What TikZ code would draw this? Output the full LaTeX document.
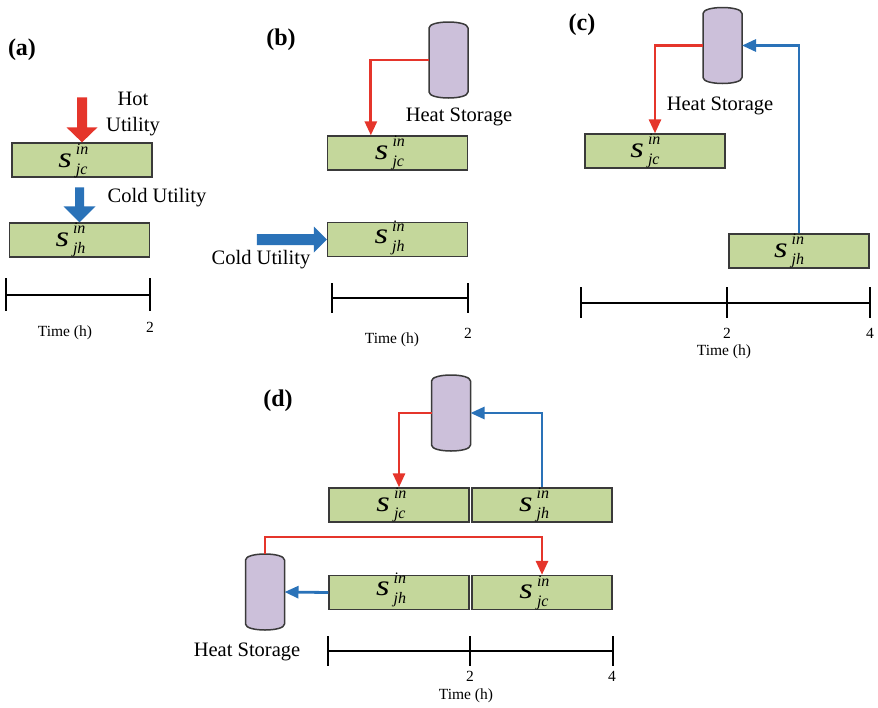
\documentclass[tikz,border=0pt]{standalone}
\usepackage{fontspec}
\usepackage{graphicx}
\setmainfont{Liberation Serif}
\usetikzlibrary{arrows.meta,calc}

\definecolor{boxgreen}{HTML}{C4D79B}
\definecolor{boxedge}{HTML}{3A3A3A}
\definecolor{tankfill}{HTML}{CCC0DA}
\definecolor{tankedge}{HTML}{3A3A3A}
\definecolor{hotred}{HTML}{E5352B}
\definecolor{coldblue}{HTML}{2A72B8}

% stream symbol s_{..}^{in}
\newcommand\slab[1]{{\fontsize{29}{29}\selectfont\itshape\scalebox{1.2}[1]{s}}\kern4pt%
  \rlap{\raisebox{12.5pt}{\fontsize{16}{17}\selectfont\itshape in}}%
  \raisebox{-7.5pt}{\fontsize{16}{17}\selectfont\itshape #1}}

% storage tank outline around a named node
\newcommand\drawtank[1]{%
  \filldraw[fill=tankfill,draw=tankedge,line width=1.5pt]
    ([yshift=6pt]#1.south west) -- ([yshift=-6pt]#1.north west)
    .. controls +(0pt,8pt) and +(0pt,8pt) .. ([yshift=-6pt]#1.north east)
    -- ([yshift=6pt]#1.south east)
    .. controls +(0pt,-8pt) and +(0pt,-8pt) .. ([yshift=6pt]#1.south west) -- cycle;}

\tikzset{
  stream/.style={rectangle,draw=boxedge,fill=boxgreen,line width=1.3pt,
    minimum width=140pt,minimum height=34pt,inner sep=0pt},
  lab/.style={anchor=base,inner sep=0pt},
  tank/.style={rectangle,minimum width=39pt,minimum height=76pt,inner sep=0pt,outer sep=0pt},
  txt/.style={inner sep=0pt,font=\fontsize{20.5}{26}\selectfont},
  small/.style={inner sep=0pt,font=\fontsize{15.5}{18}\selectfont},
  panel/.style={inner sep=0pt,font=\fontsize{24}{28}\selectfont\bfseries},
  hotline/.style={draw=hotred,line width=2.8pt,-{Triangle[length=14pt,width=12pt]}},
  coldline/.style={draw=coldblue,line width=2.8pt,-{Triangle[length=14pt,width=12pt]}},
  axis/.style={line width=2.3pt,black},
}

\begin{document}
\begin{tikzpicture}[x=1pt,y=-1pt]
\useasboundingbox (0,0) rectangle (878,707);

% ---------------- (a) ----------------
\node[panel] (pa) at (22,50) {(a)};
\node[stream] (a1) at (82,160) {};
\node[stream] (a2) at (79.5,240) {};
\node[lab] (a1t) at ([xshift=-9pt,yshift=-7pt]a1.center) {\slab{jc}};
\node[lab] (a2t) at ([xshift=-9pt,yshift=-6pt]a2.center) {\slab{jh}};
\node[txt,align=center] (hot) at (133,114) {Hot\\Utility};
\node[txt] (colda) at (157,198) {Cold Utility};
% hot utility arrow
\fill[hotred] ($(a1.north)+(-5,-45)$) -- ($(a1.north)+(5,-45)$) -- ($(a1.north)+(5,-15)$)
  -- ($(a1.north)+(15.5,-15)$) -- (a1.north) -- ($(a1.north)+(-15.5,-15)$)
  -- ($(a1.north)+(-5,-15)$) -- cycle;
% cold utility arrow
\fill[coldblue] ($(a2.north)+(-4.5,-35)$) -- ($(a2.north)+(4.5,-35)$) -- ($(a2.north)+(4.5,-16)$)
  -- ($(a2.north)+(16,-16)$) -- (a2.north) -- ($(a2.north)+(-16,-16)$)
  -- ($(a2.north)+(-4.5,-16)$) -- cycle;
% time axis
\coordinate (ta0) at (6,295);
\coordinate (ta1) at (150,295);
\draw[axis] (ta0) -- (ta1);
\draw[axis] ($(ta0)+(0,-17)$) -- ($(ta0)+(0,16)$);
\draw[axis] ($(ta1)+(0,-17)$) -- ($(ta1)+(0,16)$);
\node[small] (tla) at (65,333) {Time (h)};
\node[small] (na2) at (150,327) {2};

% ---------------- (b) ----------------
\node[panel] (pb) at (281,40) {(b)};
\node[tank] (Tb) at (448.5,60) {};
\drawtank{Tb}
\node[txt] (hsb) at (459,117) {Heat Storage};
\node[stream] (b1) at (397.5,153) {};
\node[stream] (b2) at (397.5,239.5) {};
\node[lab] (b1t) at ([xshift=-8pt,yshift=-6pt]b1.center) {\slab{jc}};
\node[lab] (b2t) at ([xshift=-8pt,yshift=-4pt]b2.center) {\slab{jh}};
\draw[hotline] (Tb.west) -| ([xshift=44pt]b1.north west);
\node[txt] (coldb) at (261,260) {Cold Utility};
\fill[coldblue] ($(b2.west)+(-70,-5.5)$) -- ($(b2.west)+(-13,-5.5)$) -- ($(b2.west)+(-13,-13)$)
  -- (b2.west) -- ($(b2.west)+(-13,13)$) -- ($(b2.west)+(-13,5.5)$)
  -- ($(b2.west)+(-70,5.5)$) -- cycle;
\coordinate (tb0) at (332,298);
\coordinate (tb1) at (468,298);
\draw[axis] (tb0) -- (tb1);
\draw[axis] ($(tb0)+(0,-15)$) -- ($(tb0)+(0,15)$);
\draw[axis] ($(tb1)+(0,-15)$) -- ($(tb1)+(0,15)$);
\node[small] (tlb) at (392,340) {Time (h)};
\node[small] (nb2) at (468,333) {2};

% ---------------- (c) ----------------
\node[panel] (pc) at (582,25) {(c)};
\node[tank] (Tc) at (722.5,45.5) {};
\drawtank{Tc}
\node[txt] (hsc) at (720,106) {Heat Storage};
\node[stream] (c1) at (655,151) {};
\node[stream] (c2) at (799,251) {};
\node[lab] (c1t) at ([xshift=-10pt,yshift=-6pt]c1.center) {\slab{jc}};
\node[lab] (c2t) at ([xshift=-10pt,yshift=-6pt]c2.center) {\slab{jh}};
\draw[hotline] (Tc.west) -| (c1.north);
\draw[coldline] (c2.north) |- (Tc.east);
\coordinate (tc0) at (581,303);
\coordinate (tc1) at (727,303);
\coordinate (tc2) at (870,303);
\draw[axis] (tc0) -- (tc2);
\foreach \p in {tc0,tc1,tc2} \draw[axis] ($(\p)+(0,-16)$) -- ($(\p)+(0,15)$);
\node[small] (nc2) at (727,333) {2};
\node[small] (nc4) at (870,333) {4};
\node[small] (tlc) at (724,352) {Time (h)};

% ---------------- (d) ----------------
\node[panel] (pd) at (278,401) {(d)};
\node[tank] (Td1) at (451,413) {};
\drawtank{Td1}
\node[tank] (Td2) at (265,592) {};
\drawtank{Td2}
\node[txt] (hsd) at (247,652) {Heat Storage};
\node[stream] (d1) at (399,505) {};
\node[stream] (d2) at (542,505) {};
\node[stream] (d3) at (399,592.5) {};
\node[stream] (d4) at (542,592.5) {};
\node[lab] (d1t) at ([xshift=-8pt,yshift=-6pt]d1.center) {\slab{jc}};
\node[lab] (d2t) at ([xshift=-8pt,yshift=-6pt]d2.center) {\slab{jh}};
\node[lab] (d3t) at ([xshift=-8pt,yshift=-3pt]d3.center) {\slab{jh}};
\node[lab] (d4t) at ([xshift=-8pt,yshift=-6pt]d4.center) {\slab{jc}};
\draw[hotline] (Td1.west) -| (d1.north);
\draw[coldline] (d2.north) |- (Td1.east);
\draw[hotline] (Td2.north) -- ++(0,-17) -| (d4.north);
\draw[coldline] (d3.west) -- (Td2.east);
\coordinate (td0) at (328,651);
\coordinate (td1) at (470,651);
\coordinate (td2) at (613,651);
\draw[axis] (td0) -- (td2);
\foreach \p in {td0,td1,td2} \draw[axis] ($(\p)+(0,-15)$) -- ($(\p)+(0,15)$);
\node[small] (nd2) at (470,676) {2};
\node[small] (nd4) at (612,676) {4};
\node[small] (tld) at (466,696) {Time (h)};
\end{tikzpicture}
\end{document}
